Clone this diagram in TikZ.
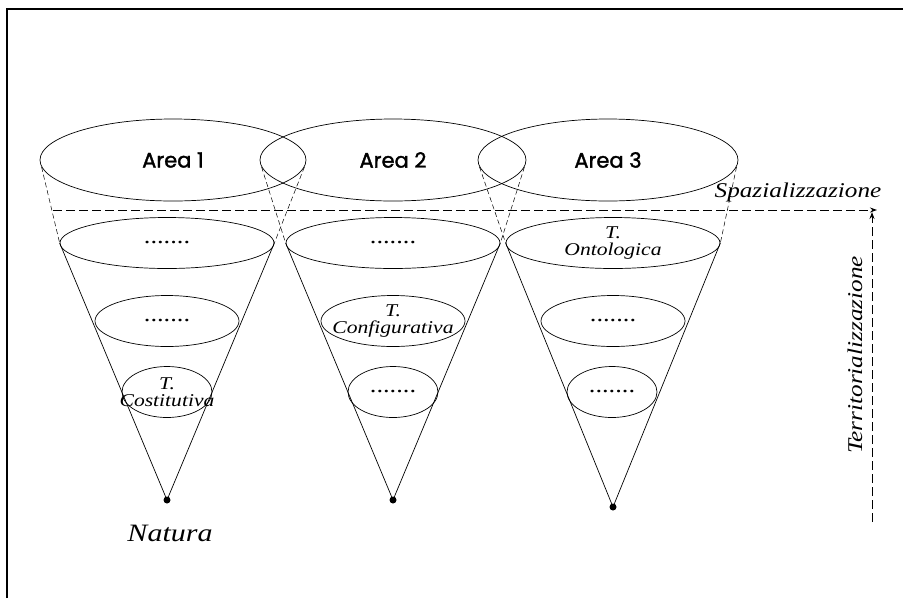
\documentclass[tikz,border=0pt]{standalone}
\usepackage{fontspec}
\setmainfont{Liberation Serif}
\newfontfamily\areafont{Poppins}[FakeBold=1.6]
\newfontfamily\calfont{Liberation Serif}[FakeStretch=1.2]
\usetikzlibrary{shapes.geometric,arrows.meta}

\begin{document}
\begin{tikzpicture}[x=1pt,y=-1pt,line width=.7pt,
	area/.style={ellipse,draw,inner sep=0pt,minimum width=266pt,minimum height=82pt,
		font=\areafont\fontsize{21}{21}\selectfont},
	layer/.style={ellipse,draw,inner sep=0pt,minimum height=51pt},
	tag/.style={align=center,inner sep=0pt,font=\calfont\itshape\fontsize{18}{17}\selectfont},
	dots/.style={inner sep=0pt,font=\calfont\fontsize{22}{22}\selectfont},
	apex/.style={circle,fill,inner sep=0pt,minimum size=7pt},
	guide/.style={dash pattern=on 5pt off 3pt,line width=.5pt},
	axis/.style={dash pattern=on 9pt off 4pt,line width=.9pt,-{Stealth[length=7pt,width=5pt]}},
	axislabel/.style={font=\calfont\itshape\fontsize{21}{21}\selectfont}]
	\useasboundingbox (0,0) rectangle (903,598);
	\draw [line width=2.5pt] (7,598) -- (7,9) -- (903,9);
	% aree
	\node [area] (t1) at (173,160) {Area 1};
	\node [area] (t2) at (393,160) {Area 2};
	\node [area,minimum width=260pt] (t3) at (608,160) {Area 3};
	% coni
	\node [layer,minimum width=214pt,label={[dots]center:.......}] (la1) at (167,243) {};
	\node [layer,minimum width=144pt,label={[dots]center:.......}] (lb1) at (167,321) {};
	\node [layer,minimum width=90pt,label={[tag]center:T.\\Costitutiva}] (lc1) at (167,392) {};
	\node [apex] (p1) at (167,500) {};
	\node [layer,minimum width=214pt,label={[dots]center:.......}] (la2) at (393,243) {};
	\node [layer,minimum width=144pt,label={[tag]center:T.\\Configurativa}] (lb2) at (393,321) {};
	\node [layer,minimum width=90pt,label={[dots]center:.......}] (lc2) at (393,392) {};
	\node [apex] (p2) at (393,500) {};
	\node [layer,minimum width=214pt,label={[tag]center:T.\\Ontologica}] (la3) at (613,243) {};
	\node [layer,minimum width=144pt,label={[dots]center:.......}] (lb3) at (613,321) {};
	\node [layer,minimum width=90pt,label={[dots]center:.......}] (lc3) at (612,392) {};
	\node [apex] (p3) at (613,507) {};
	\foreach \i in {1,2,3} {
		\draw [guide] (t\i.183) -- (la\i.west);
		\draw [guide] (t\i.357) -- (la\i.east);
		\draw (la\i.west) -- (p\i.center) -- (la\i.east);
	}
	\node [axislabel,font=\calfont\itshape\fontsize{25}{25}\selectfont] (natura) at (170,533) {Natura};
	% assi
	\coordinate (spazS) at (53,210);
	\coordinate (spazE) at (877,210);
	\draw [axis] (spazS) -- (spazE);
	\node [axislabel] (spaz) at (798,192) {Spazializzazione};
	\coordinate (terrS) at (872,522);
	\coordinate (terrE) at (872,212);
	\draw [axis] (terrS) -- (terrE);
	\node [axislabel,rotate=90] (terr) at (855,355) {Territorializzazione};
\end{tikzpicture}
\end{document}
